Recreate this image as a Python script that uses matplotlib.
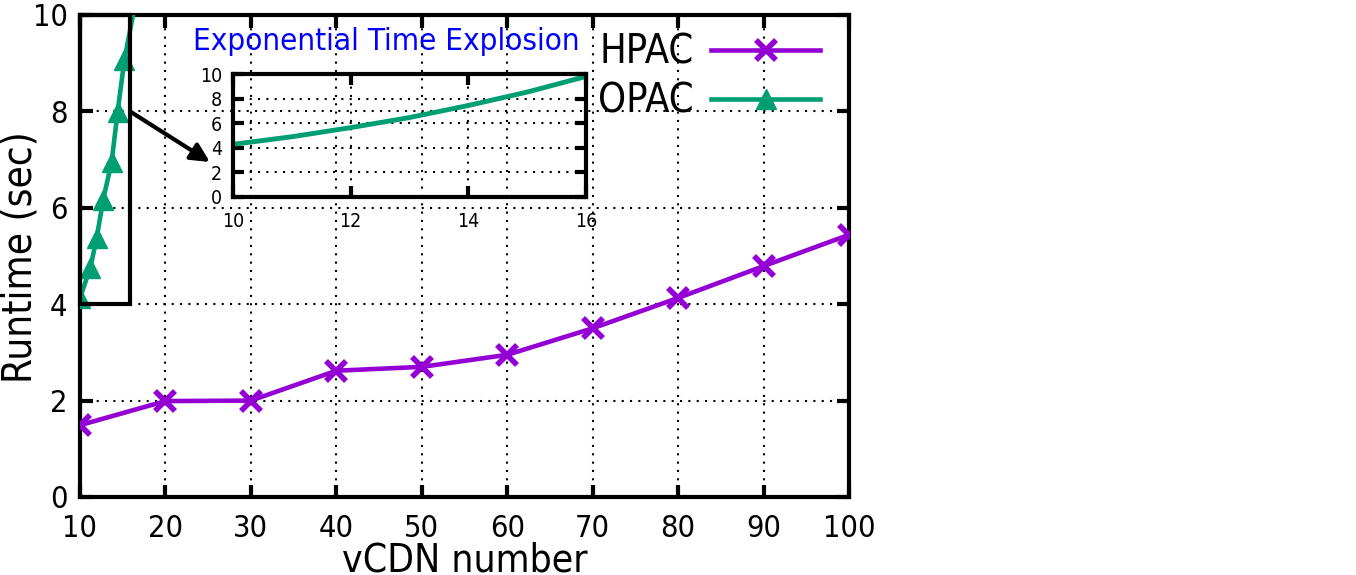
import matplotlib
matplotlib.use("Agg")
import matplotlib.pyplot as plt
from matplotlib.patches import Rectangle

# ---- data ----
hpac_x = [10, 20, 30, 40, 50, 60, 70, 80, 90, 100]
hpac_y = [1.49, 1.99, 2.0, 2.62, 2.7, 2.95, 3.5, 4.13, 4.79, 5.44]

opac_x = [10, 11.2, 11.95, 12.7, 13.7, 14.4, 15.2, 16.2]
opac_y = [4.13, 4.75, 5.37, 6.16, 6.95, 7.99, 9.07, 10.0]

inset_x = [10, 11, 12, 13, 14, 15, 16]
inset_y = [4.28, 4.90, 5.64, 6.46, 7.44, 8.53, 9.80]

main_xticks = [10, 20, 30, 40, 50, 60, 70, 80, 90, 100]
main_yticks = [0, 2, 4, 6, 8, 10]
inset_xticks = [10, 12, 14, 16]
inset_yticks = [0, 2, 4, 6, 8, 10]

xlabel = "vCDN number"
ylabel = "Runtime (sec)"
inset_title = "Exponential Time Explosion"
labels = ["HPAC", "OPAC"]

HPAC_C = "#9400D3"
OPAC_C = "#009E73"

plt.rcParams["font.family"] = ["DejaVu Sans"]
plt.rcParams["font.stretch"] = "condensed"

W, H = 1356, 575
fig = plt.figure(figsize=(W / 100, H / 100), dpi=100)

def fx(px):
    return px / W

def fy(py):
    return 1 - py / H

ax = fig.add_axes([fx(80), fy(497), fx(849) - fx(80), fy(15) - fy(497)])
ax.set_xlim(10, 100)
ax.set_ylim(0, 10)
ax.set_xticks(main_xticks)
ax.set_yticks(main_yticks)
ax.tick_params(direction="in", length=9, width=3, labelsize=22,
               top=True, right=True, pad=9)
ax.tick_params(axis="x", pad=12)
for s in ax.spines.values():
    s.set_linewidth(3)
ax.grid(True, color="black", linestyle=(0, (1, 3)), linewidth=1.5)
ax.set_axisbelow(False)

ax.plot(hpac_x, hpac_y, color=HPAC_C, lw=3.3, marker="x", ms=15, mew=4,
        label=labels[0], zorder=5)
ax.plot(opac_x, opac_y, color=OPAC_C, lw=3.3, marker="^", ms=14,
        markevery=list(range(len(opac_x) - 1)), label=labels[1], zorder=5)

ax.add_patch(Rectangle((10, 4), 5.85, 6, fill=False, ec="black", lw=3,
                       zorder=6, clip_on=False))
ax.annotate("", xy=(25.2, 6.95), xytext=(15.85, 8.0),
            arrowprops=dict(arrowstyle="-|>", lw=3, color="black",
                            mutation_scale=28, shrinkA=0, shrinkB=0),
            zorder=7)

ax.set_xlabel(xlabel, fontsize=28)
ax.set_ylabel(ylabel, fontsize=29)
ax.xaxis.set_label_coords(0.5, -(571 - 497) / 482)
ax.xaxis.label.set_va("baseline")
ax.yaxis.set_label_coords(-0.077, 0.497)
ax.yaxis.label.set_va("center")

leg = ax.legend(loc="upper right", bbox_to_anchor=(fx(820), fy(33)),
                bbox_transform=fig.transFigure, frameon=False,
                markerfirst=False, fontsize=28.5, handlelength=2.75,
                handletextpad=0.45, labelspacing=0.22, borderaxespad=0,
                borderpad=0)

# inset
ins = fig.add_axes([fx(233), fy(197), fx(586) - fx(233), fy(74) - fy(197)])
ins.patch.set_alpha(0)
ins.set_xlim(10, 16)
ins.set_ylim(0, 10)
ins.set_xticks(inset_xticks)
ins.set_yticks(inset_yticks)
ins.tick_params(direction="in", length=8, width=3, labelsize=14,
                top=True, right=True, pad=8)
ins.tick_params(axis="x", pad=11)
for s in ins.spines.values():
    s.set_linewidth(3)
ins.grid(True, color="black", linestyle=(0, (1, 3)), linewidth=1.5)
ins.plot(inset_x, inset_y, color=OPAC_C, lw=3.5)

fig.text(fx(386), fy(42), inset_title, color="#0000FF", fontsize=22.5,
         ha="center", va="center")

fig.savefig("out.png", dpi=100)
